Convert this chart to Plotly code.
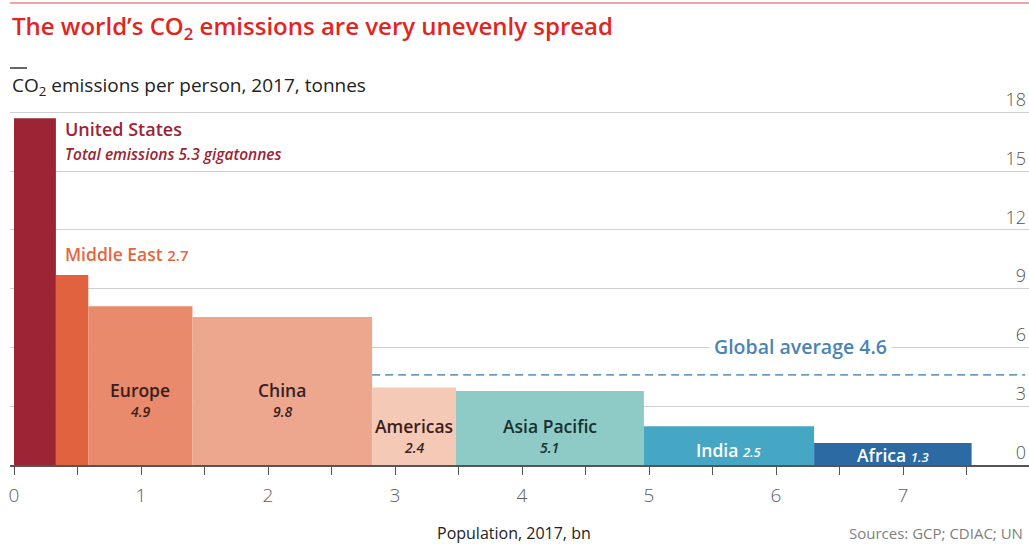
import numpy as np
import plotly.graph_objects as go

# ---------------- data ----------------
regions = ["United States", "Middle East", "Europe", "China", "Americas",
           "Asia Pacific", "India", "Africa"]
population_bn = [0.33, 0.255, 0.82, 1.415, 0.66, 1.48, 1.34, 1.24]
co2_per_person = [17.7, 9.7, 8.1, 7.55, 3.95, 3.78, 1.98, 1.12]
total_emissions_gt = ["5.3", "2.7", "4.9", "9.8", "2.4", "5.1", "2.5", "1.3"]
global_average = 4.6
x_tick_vals = [0, 1, 2, 3, 4, 5, 6, 7]
y_tick_vals = [0, 3, 6, 9, 12, 15, 18]

colors = ["#9c2535", "#e0623f", "#e88a6b", "#eca78e", "#f4cab6",
          "#8ecbc7", "#46a7c4", "#2b6aa2"]

# ---------------- geometry ----------------
W, H = 1029, 544
ML, MR, MT, MB = 10, 0, 83, 79
PW, PH = W - ML - MR, H - MT - MB
X_RANGE = [-0.0315, 7.992]
Y_RANGE = [0, 19.5]


def px(xp):
    return (xp - ML) / PW


def py(yp):
    return (H - MB - yp) / PH


FONT = "Open Sans"

pop = np.array(population_bn)
right = np.cumsum(pop)
left = right - pop
center = left + pop / 2

fig = go.Figure()
fig.add_trace(go.Bar(
    x=center, y=co2_per_person, width=pop,
    marker=dict(color=colors, line=dict(width=0)),
    hoverinfo="skip", showlegend=False,
))

annotations = []

# title / subtitle
annotations.append(dict(
    xref="paper", yref="paper", x=px(10), y=py(27), xanchor="left", yanchor="middle",
    text="The world’s CO<sub>2</sub> emissions are very unevenly spread",
    showarrow=False, font=dict(family=FONT, size=24, color="#e0261f", weight=600)))
annotations.append(dict(
    xref="paper", yref="paper", x=px(10), y=py(86), xanchor="left", yanchor="middle",
    text="CO<sub>2</sub> emissions per person, 2017, tonnes",
    showarrow=False, font=dict(family=FONT, size=19, color="#222")))

# x axis title and source
annotations.append(dict(
    xref="paper", yref="paper", x=px(514), y=py(533), xanchor="center", yanchor="middle",
    text="Population, 2017, bn", showarrow=False,
    font=dict(family=FONT, size=16, color="#222")))
annotations.append(dict(
    xref="paper", yref="paper", x=px(1025), y=py(533), xanchor="right", yanchor="middle",
    text="Sources: GCP; CDIAC; UN", showarrow=False,
    font=dict(family=FONT, size=15, color="#808080")))

# United States
annotations.append(dict(
    x=right[0], y=co2_per_person[0], xanchor="left", yanchor="top", xshift=7, yshift=3,
    text=regions[0], showarrow=False,
    font=dict(family=FONT, size=18, color=colors[0], weight=600)))
annotations.append(dict(
    x=right[0], y=co2_per_person[0], xanchor="left", yanchor="top", xshift=7, yshift=-23,
    text="<i>Total emissions " + total_emissions_gt[0] + " gigatonnes</i>", showarrow=False,
    font=dict(family=FONT, size=15.5, color=colors[0], weight=600)))

# Middle East
annotations.append(dict(
    x=left[1], y=co2_per_person[1], xanchor="left", yanchor="bottom", xshift=7, yshift=7,
    text=regions[1] + " <span style='font-size:15px'>" + total_emissions_gt[1] + "</span>",
    showarrow=False, font=dict(family=FONT, size=17.5, color="#e4673f", weight=600)))

# two-line labels inside bars
dark = ["#3a1d1d", "#3a1d1d", "#3a1d1d", "#16302e"]
for k, i in enumerate([2, 3, 4, 5]):
    yl = 3.85 if i in (2, 3) else 2.0
    annotations.append(dict(
        x=center[i], y=yl, xanchor="center", yanchor="middle",
        text=regions[i], showarrow=False,
        font=dict(family=FONT, size=17.5, color=dark[k], weight=600)))
    annotations.append(dict(
        x=center[i], y=yl, xanchor="center", yanchor="middle", yshift=-22,
        text="<i>" + total_emissions_gt[i] + "</i>", showarrow=False,
        font=dict(family=FONT, size=14, color=dark[k], weight=600)))

# single-line white labels
for i, yl in [(6, 0.77), (7, 0.5)]:
    annotations.append(dict(
        x=center[i], y=yl, xanchor="center", yanchor="middle",
        text=regions[i] + " <span style='font-size:13px'><i>" + total_emissions_gt[i] + "</i></span>",
        showarrow=False, font=dict(family=FONT, size=17.5, color="white", weight=600)))

# global average label
annotations.append(dict(
    x=6.19, y=global_average, xanchor="center", yanchor="bottom", yshift=10,
    text="Global average " + str(global_average), showarrow=False, bgcolor="white",
    borderpad=4,
    font=dict(family=FONT, size=19.5, color="#4a84b3", weight=600)))

shapes = [
    dict(type="line", xref="x", yref="y", x0=left[4], x1=X_RANGE[1] - 0.03,
         y0=global_average, y1=global_average,
         line=dict(color="#6f9cc4", width=1.6, dash="8px,5px")),
    dict(type="line", xref="paper", yref="paper", x0=px(10), x1=px(1029),
         y0=py(3), y1=py(3), line=dict(color="#e98a86", width=1.5)),
    dict(type="line", xref="paper", yref="paper", x0=px(10), x1=px(27),
         y0=py(68), y1=py(68), line=dict(color="#333", width=1.5)),
]

fig.update_layout(
    width=W, height=H,
    margin=dict(l=ML, r=MR, t=MT, b=MB, pad=0),
    paper_bgcolor="white", plot_bgcolor="white",
    annotations=annotations, shapes=shapes,
    font=dict(family=FONT),
    xaxis=dict(
        range=X_RANGE, tickvals=x_tick_vals, ticks="outside", ticklen=8,
        tickcolor="#555", tickwidth=1.2,
        minor=dict(dtick=0.5, tick0=0, ticks="outside", ticklen=8, tickcolor="#555", tickwidth=1.2),
        showline=True, linecolor="#555", linewidth=1.5,
        showgrid=False, zeroline=False,
        tickfont=dict(family=FONT, size=19, color="#606060", weight=300),
        ticklabelstandoff=4,
    ),
    yaxis=dict(
        range=Y_RANGE, side="right", tickvals=y_tick_vals,
        ticklabelposition="inside top", ticks="",
        showgrid=True, gridcolor="#cfcfcf", gridwidth=1.2,
        zeroline=False, showline=False,
        tickfont=dict(family=FONT, size=18, color="#555", weight=300),
    ),
)

fig.write_html("out.html")
